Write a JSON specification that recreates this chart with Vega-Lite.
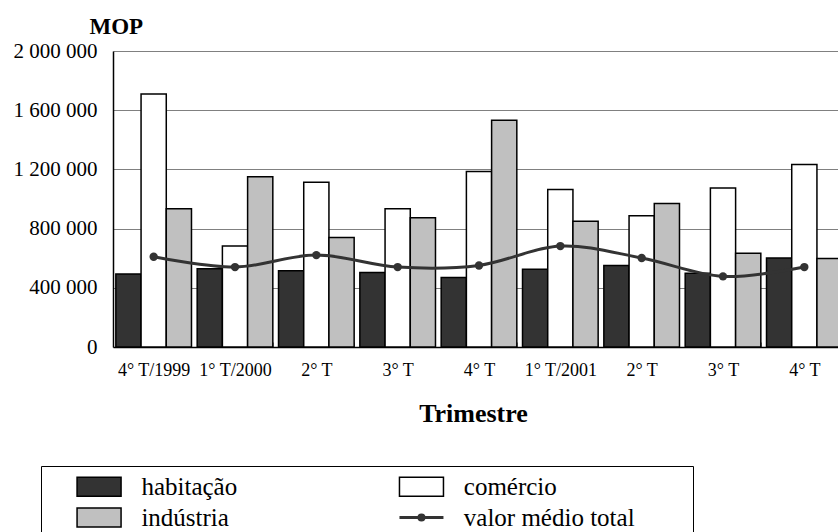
{
  "$schema": "https://vega.github.io/schema/vega-lite/v6.json",
  "width": 732,
  "height": 296,
  "autosize": {"type": "none"},
  "padding": {"left": 113, "top": 51, "right": 0, "bottom": 185},
  "background": "white",
  "config": {"view": {"stroke": null}, "font": "Liberation Serif"},
  "datasets": {
    "bars": [
      {"trimestre": "4° T/1999", "serie": "habitação", "valor": 493000},
      {"trimestre": "4° T/1999", "serie": "comércio", "valor": 1710000},
      {"trimestre": "4° T/1999", "serie": "indústria", "valor": 934000},
      {"trimestre": "1° T/2000", "serie": "habitação", "valor": 529000},
      {"trimestre": "1° T/2000", "serie": "comércio", "valor": 682000},
      {"trimestre": "1° T/2000", "serie": "indústria", "valor": 1150000},
      {"trimestre": "2° T/2000", "serie": "habitação", "valor": 515000},
      {"trimestre": "2° T/2000", "serie": "comércio", "valor": 1114000},
      {"trimestre": "2° T/2000", "serie": "indústria", "valor": 740000},
      {"trimestre": "3° T/2000", "serie": "habitação", "valor": 504000},
      {"trimestre": "3° T/2000", "serie": "comércio", "valor": 934000},
      {"trimestre": "3° T/2000", "serie": "indústria", "valor": 873000},
      {"trimestre": "4° T/2000", "serie": "habitação", "valor": 470000},
      {"trimestre": "4° T/2000", "serie": "comércio", "valor": 1186000},
      {"trimestre": "4° T/2000", "serie": "indústria", "valor": 1532000},
      {"trimestre": "1° T/2001", "serie": "habitação", "valor": 526000},
      {"trimestre": "1° T/2001", "serie": "comércio", "valor": 1064000},
      {"trimestre": "1° T/2001", "serie": "indústria", "valor": 850000},
      {"trimestre": "2° T/2001", "serie": "habitação", "valor": 551000},
      {"trimestre": "2° T/2001", "serie": "comércio", "valor": 886000},
      {"trimestre": "2° T/2001", "serie": "indústria", "valor": 970000},
      {"trimestre": "3° T/2001", "serie": "habitação", "valor": 499000},
      {"trimestre": "3° T/2001", "serie": "comércio", "valor": 1075000},
      {"trimestre": "3° T/2001", "serie": "indústria", "valor": 634000},
      {"trimestre": "4° T/2001", "serie": "habitação", "valor": 601000},
      {"trimestre": "4° T/2001", "serie": "comércio", "valor": 1233000},
      {"trimestre": "4° T/2001", "serie": "indústria", "valor": 598000}
    ],
    "media": [
      {"trimestre": "4° T/1999", "serie": "valor médio total", "valor": 610000},
      {"trimestre": "1° T/2000", "serie": "valor médio total", "valor": 540000},
      {"trimestre": "2° T/2000", "serie": "valor médio total", "valor": 621000},
      {"trimestre": "3° T/2000", "serie": "valor médio total", "valor": 540000},
      {"trimestre": "4° T/2000", "serie": "valor médio total", "valor": 551000},
      {"trimestre": "1° T/2001", "serie": "valor médio total", "valor": 682000},
      {"trimestre": "2° T/2001", "serie": "valor médio total", "valor": 601000},
      {"trimestre": "3° T/2001", "serie": "valor médio total", "valor": 477000},
      {"trimestre": "4° T/2001", "serie": "valor médio total", "valor": 540000}
    ]
  },
  "encoding": {
    "x": {
      "field": "trimestre",
      "type": "nominal",
      "sort": null,
      "scale": {"paddingInner": 0.07, "paddingOuter": 0.035},
      "axis": {
        "title": "Trimestre",
        "titleFont": "Liberation Serif",
        "titleFontSize": 26,
        "titleFontWeight": "bold",
        "titleColor": "black",
        "titleBaseline": "alphabetic",
        "titleY": 74,
        "titleX": 360,
        "labelAngle": 0,
        "labelFont": "Liberation Serif",
        "labelFontSize": 18,
        "labelColor": "black",
        "labelPadding": 19,
        "labelExpr": "(datum.label == '4° T/1999' || datum.label == '1° T/2000' || datum.label == '1° T/2001') ? datum.label : split(datum.label, '/')[0]",
        "domainColor": "black",
        "domainWidth": 1.5,
        "tickBand": "extent",
        "tickSize": -5,
        "tickColor": "#808080",
        "tickWidth": 1
      }
    },
    "y": {
      "field": "valor",
      "type": "quantitative",
      "scale": {"domain": [0, 2000000]},
      "axis": {
        "values": [0, 400000, 800000, 1200000, 1600000, 2000000],
        "labelExpr": "replace(format(datum.value, ','), regexp(',', 'g'), ' ')",
        "labelFont": "Liberation Serif",
        "labelFontSize": 21,
        "labelColor": "black",
        "labelPadding": 16,
        "ticks": false,
        "domainColor": "black",
        "domainWidth": 1.5,
        "grid": true,
        "gridColor": "#808080",
        "gridWidth": 1,
        "title": "MOP",
        "titleAngle": 0,
        "titleAlign": "left",
        "titleBaseline": "alphabetic",
        "titleX": -24,
        "titleY": -18,
        "titleFont": "Liberation Serif",
        "titleFontSize": 23,
        "titleFontWeight": "bold",
        "titleColor": "black"
      }
    }
  },
  "layer": [
    {
      "data": {"name": "bars"},
      "mark": {"type": "bar", "stroke": "black", "strokeWidth": 1.5},
      "encoding": {
        "xOffset": {"field": "serie", "type": "nominal", "sort": ["habitação", "comércio", "indústria"]},
        "fill": {
          "field": "serie",
          "type": "nominal",
          "scale": {
            "domain": ["habitação", "indústria", "comércio", "valor médio total"],
            "range": ["#333333", "#c0c0c0", "#ffffff", "#333333"]
          },
          "legend": {
            "orient": "none",
            "legendX": -72,
            "legendY": 415,
            "title": null,
            "columns": 2,
            "symbolSize": 484,
            "symbolStrokeColor": "black",
            "symbolStrokeWidth": 1.5,
            "labelFont": "Liberation Serif",
            "labelFontSize": 25,
            "labelColor": "black",
            "labelOffset": 67.4,
            "labelLimit": 400,
            "columnPadding": 128.4,
            "rowPadding": 5,
            "strokeColor": "black",
            "padding": 8,
            "encode": {
              "symbols": {
                "update": {
                  "shape": {"signal": "datum.value === 'valor médio total' ? 'M-1,0M1.415,0H5.415M3.185,0A0.23,0.23 0 1,0 3.645,0A0.23,0.23 0 1,0 3.185,0M26.77,0' : (datum.value === 'comércio' ? 'M-1,0M1.415,-0.86H5.415V0.86H1.415ZM26.77,0' : 'M-1,0M1.415,-0.86H5.415V0.86H1.415Z')"},
                  "fill": {"signal": "datum.value === 'comércio' ? '#ffffff' : (datum.value === 'indústria' ? '#c0c0c0' : '#333333')"},
                  "stroke": {"signal": "datum.value === 'valor médio total' ? '#333333' : 'black'"},
                  "strokeWidth": {"signal": "datum.value === 'valor médio total' ? 3 : 1.5"},
                  "opacity": {"value": 1},
                  "fillOpacity": {"value": 1}
                }
              }
            }
          }
        }
      }
    },
    {
      "data": {"name": "media"},
      "mark": {"type": "line", "interpolate": "cardinal", "strokeWidth": 3, "color": "#333333"},
      "encoding": {}
    },
    {
      "data": {"name": "media"},
      "mark": {"type": "point", "filled": true, "size": 70, "opacity": 1, "stroke": null},
      "encoding": {
        "fill": {"field": "serie", "type": "nominal"}
      }
    }
  ]
}
